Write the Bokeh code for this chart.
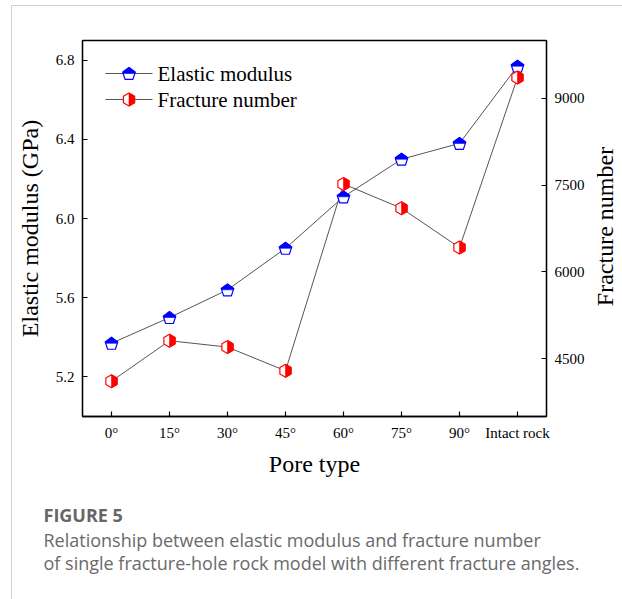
import math

from bokeh.core.properties import value
from bokeh.embed import file_html
from bokeh.layouts import column, row
from bokeh.models import (FixedTicker, InlineStyleSheet, LinearAxis,
                          PrintfTickFormatter, Range1d)
from bokeh.plotting import figure
from bokeh.resources import INLINE

# ---- data -------------------------------------------------------------
pore_types = ["0°", "15°", "30°", "45°", "60°", "75°", "90°", "Intact rock"]
elastic_modulus = [5.37, 5.50, 5.64, 5.85, 6.11, 6.30, 6.38, 6.77]      # GPa
fracture_number = [4110, 4810, 4700, 4290, 7520, 7100, 6420, 9360]
modulus_ticks = [5.2, 5.6, 6.0, 6.4, 6.8]
fracture_ticks = [4500, 6000, 7500, 9000]
series_names = ["Elastic modulus", "Fracture number"]

caption_title = "FIGURE 5"
caption_lines = [
    "Relationship between elastic modulus and fracture number",
    "of single fracture-hole rock model with different fracture angles.",
]

# ---- layout -----------------------------------------------------------
SERIF = "Liberation Serif"
SANS = "Open Sans"
X_RANGE = (-0.5, 7.5)
Y_RANGE = (5.0, 6.9)
Y2_RANGE = (3500, 10000)
FRAME_W, FRAME_H = 464, 376
LEFT, TOP, RIGHT = 82, 40, 44
PAGE_W, CHART_H, CAPTION_H = 622, 490, 109
CHART_W = LEFT + FRAME_W + RIGHT
SIDE_W = PAGE_W - CHART_W

BLUE, RED, LINK = "#0000ff", "#ff0000", "#555555"

# pixels per data unit, used to size the symbols in screen pixels
kx = FRAME_W / (X_RANGE[1] - X_RANGE[0])
ky = FRAME_H / (Y_RANGE[1] - Y_RANGE[0])
ky2 = FRAME_H / (Y2_RANGE[1] - Y2_RANGE[0])


def fx_px(px):
    """Frame pixel offset from the left edge -> x data value."""
    return X_RANGE[0] + px / kx


def fy_px(py):
    """Frame pixel offset from the top edge -> left-axis data value."""
    return Y_RANGE[1] - py / ky


def regular_polygon(n, r, start_deg):
    pts = [(r * math.cos(math.radians(start_deg + 360.0 * k / n)),
            r * math.sin(math.radians(start_deg + 360.0 * k / n))) for k in range(n)]
    ys = [q[1] for q in pts]
    mid = (max(ys) + min(ys)) / 2.0          # centre the symbol's box on the point
    return [(a, b - mid) for a, b in pts]


def clip_half(poly, axis, positive=True):
    """Keep the part of a polygon on one side of x=0 (axis 0) or y=0 (axis 1)."""
    s = 1.0 if positive else -1.0
    out = []
    for i, a in enumerate(poly):
        b = poly[(i + 1) % len(poly)]
        da, db = s * a[axis], s * b[axis]
        if da >= 0:
            out.append(a)
        if (da >= 0) != (db >= 0):
            t = da / (da - db)
            out.append((a[0] + t * (b[0] - a[0]), a[1] + t * (b[1] - a[1])))
    return out


PENTAGON = regular_polygon(5, 6.6, 90)
PENTAGON_TOP = clip_half(PENTAGON, 1, True)
HEXAGON = regular_polygon(6, 6.5, 90)
HEXAGON_RIGHT = clip_half(HEXAGON, 0, True)


def place(shape, xs, ys, sy):
    px, py = [], []
    for xc, yc in zip(xs, ys):
        px.append([xc + a / kx for a, _ in shape])
        py.append([yc + b / sy for _, b in shape])
    return px, py


# ---- chart ------------------------------------------------------------
p = figure(frame_width=FRAME_W, frame_height=FRAME_H,
           min_border_left=LEFT, min_border_top=TOP, min_border_right=RIGHT,
           min_border_bottom=CHART_H - TOP - FRAME_H,
           x_range=Range1d(*X_RANGE), y_range=Range1d(*Y_RANGE),
           frame_align=False,
           toolbar_location=None, tools="", output_backend="svg")
p.extra_y_ranges = {"frac": Range1d(*Y2_RANGE)}
p.add_layout(LinearAxis(y_range_name="frac"), "right")

p.grid.visible = False
p.background_fill_color = "white"
p.border_fill_color = "white"
p.outline_line_color = "black"
p.outline_line_width = 1.3

for ax in p.axis:
    ax.axis_line_color = "black"
    ax.axis_line_width = 1.3
    ax.major_tick_in = 5
    ax.major_tick_out = 0
    ax.major_tick_line_width = 1.2
    ax.minor_tick_line_color = None
    ax.major_label_text_font = SERIF
    ax.major_label_text_font_size = "15px"
    ax.major_label_text_color = "black"
    ax.major_label_standoff = 8
    ax.axis_label_text_font = SERIF
    ax.axis_label_text_font_size = "24px"
    ax.axis_label_text_font_style = "normal"
    ax.axis_label_text_color = "black"
    ax.axis_label_standoff = 10

xax = p.xaxis[0]
xax.ticker = FixedTicker(ticks=list(range(len(pore_types))))
xax.major_label_overrides = {i: t for i, t in enumerate(pore_types)}
xax.axis_label = "Pore type"
xax.axis_label_standoff = 7

left_ax, right_ax = p.yaxis[0], p.yaxis[1]
left_ax.ticker = FixedTicker(ticks=modulus_ticks)
left_ax.formatter = PrintfTickFormatter(format="%.1f")
left_ax.axis_label = "Elastic modulus (GPa)"
right_ax.ticker = FixedTicker(ticks=fracture_ticks)

xs = list(range(len(pore_types)))

# connecting lines
p.line(xs, elastic_modulus, line_color=LINK, line_width=1)
p.line(xs, fracture_number, line_color=LINK, line_width=1, y_range_name="frac")

# elastic modulus: pentagon, upper half filled
ex, ey = place(PENTAGON, xs, elastic_modulus, ky)
p.patches(ex, ey, fill_color="white", line_color=BLUE, line_width=1.2)
ex, ey = place(PENTAGON_TOP, xs, elastic_modulus, ky)
p.patches(ex, ey, fill_color=BLUE, line_color=BLUE, line_width=0.6)

# fracture number: hexagon, right half filled
fx, fy = place(HEXAGON, xs, fracture_number, ky2)
p.patches(fx, fy, fill_color="white", line_color=RED, line_width=1.2, y_range_name="frac")
fx, fy = place(HEXAGON_RIGHT, xs, fracture_number, ky2)
p.patches(fx, fy, fill_color=RED, line_color=RED, line_width=0.6, y_range_name="frac")

# legend (positions in frame pixels: left/top offsets)
leg_rows_px = [33, 59]
leg_line_px = (23, 70)
leg_mark_px = 46.5
leg_text_px = 75

row_y = [fy_px(r) for r in leg_rows_px]
p.segment(x0=[fx_px(leg_line_px[0])] * 2, y0=row_y,
          x1=[fx_px(leg_line_px[1])] * 2, y1=row_y,
          line_color=LINK, line_width=1)
mx = [fx_px(leg_mark_px)]
a, b = place(PENTAGON, mx, row_y[:1], ky)
p.patches(a, b, fill_color="white", line_color=BLUE, line_width=1.2)
a, b = place(PENTAGON_TOP, mx, row_y[:1], ky)
p.patches(a, b, fill_color=BLUE, line_color=BLUE, line_width=0.6)
a, b = place(HEXAGON, mx, row_y[1:], ky)
p.patches(a, b, fill_color="white", line_color=RED, line_width=1.2)
a, b = place(HEXAGON_RIGHT, mx, row_y[1:], ky)
p.patches(a, b, fill_color=RED, line_color=RED, line_width=0.6)
p.text(x=[fx_px(leg_text_px)] * 2, y=row_y, text=series_names,
       text_font=value(SERIF), text_font_size=value("21px"),
       text_baseline="middle", text_align="left", text_color="black")

# ---- right-hand axis title (own narrow strip, reads bottom to top) ------
side = figure(width=SIDE_W, height=CHART_H, x_range=Range1d(0, SIDE_W),
              y_range=Range1d(CHART_H, 0), x_axis_type=None, y_axis_type=None,
              min_border=0, frame_align=False,
              toolbar_location=None, tools="", output_backend="svg")
side.grid.visible = False
side.outline_line_color = None
side.background_fill_color = "white"
side.border_fill_color = "white"
side.text(x=[604 - CHART_W], y=[TOP + 186], text=["Fracture number"],
          angle=math.pi / 2, text_font=value(SERIF), text_font_size=value("24px"),
          text_align="center", text_baseline="middle", text_color="black")

# ---- caption ----------------------------------------------------------
cap = figure(width=PAGE_W, height=CAPTION_H, x_range=Range1d(0, PAGE_W),
             y_range=Range1d(CAPTION_H, 0), x_axis_type=None, y_axis_type=None,
             min_border=0, frame_align=False,
             toolbar_location=None, tools="", output_backend="svg")
cap.grid.visible = False
cap.outline_line_color = None
cap.background_fill_color = "white"
cap.border_fill_color = "white"
cap.text(x=[43], y=[24], text=[caption_title], text_font=value(SANS),
         text_font_size=value("18px"), text_font_style="bold",
         text_baseline="middle", text_color="#666666")
cap.text(x=[43, 43], y=[49, 72], text=caption_lines, text_font=value(SANS),
         text_font_size=value("18px"), text_baseline="middle",
         text_color="#6a6a6a")

frame_css = InlineStyleSheet(css="""
:host::after {
  content: "";
  position: absolute;
  left: 11px; top: 5px; right: 0; bottom: 0;
  border-left: 1px solid #d0d0d0;
  border-top: 1px solid #d0d0d0;
  pointer-events: none;
}
""")
page = column(row(p, side, spacing=0), cap, spacing=0, stylesheets=[frame_css])

with open("out.html", "w") as f:
    f.write(file_html(page, INLINE))
